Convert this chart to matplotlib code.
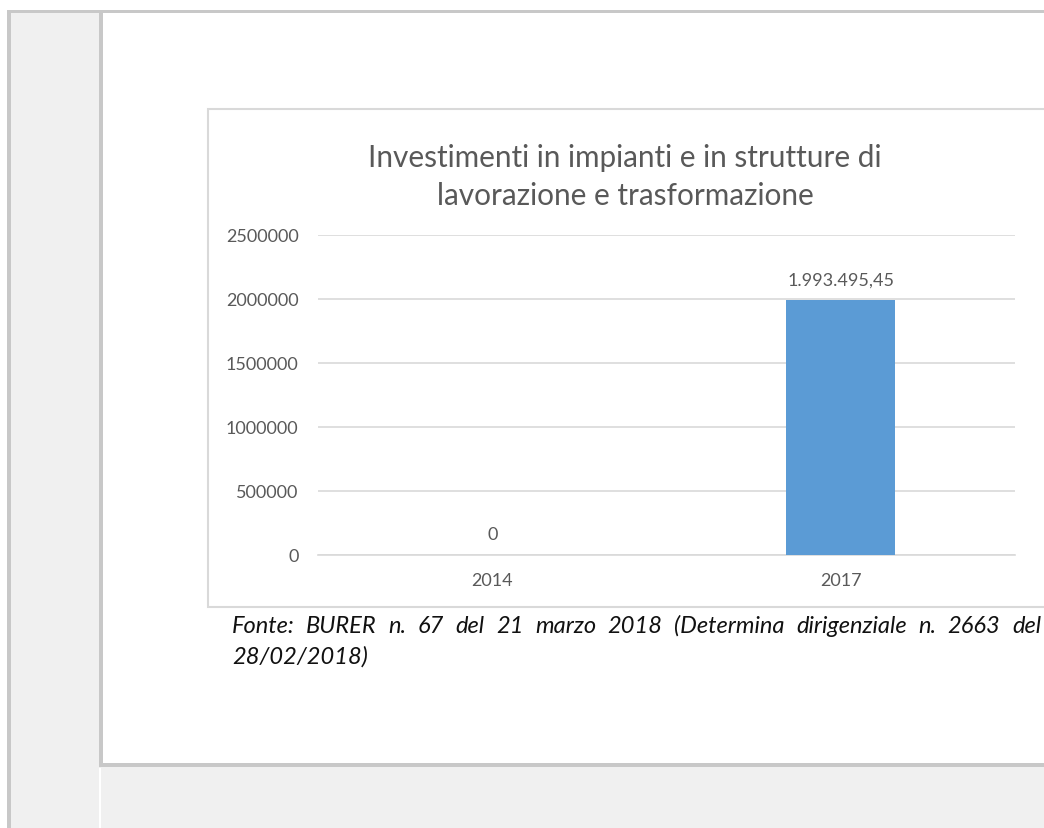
import matplotlib
matplotlib.use("Agg")
import matplotlib.pyplot as plt
from matplotlib.patches import Rectangle

# dati del grafico
anni = ["2014", "2017"]
investimenti = [0, 1993495.45]
etichette_valori = ["0", "1.993.495,45"]
tick_y = [0, 500000, 1000000, 1500000, 2000000, 2500000]

titolo = "Investimenti in impianti e in strutture di\nlavorazione e trasformazione"
fonte_riga1 = "Fonte: BURER n. 67 del 21 marzo 2018 (Determina dirigenziale n. 2663 del"
fonte_riga2 = "28/02/2018)"

W, H = 1044, 829
GRIGIO_TESTO = "#595959"
GRIGIO_GRIGLIA = "#d9d9d9"
BLU = "#5b9bd5"

plt.rcParams["font.family"] = ["Lato", "DejaVu Sans"]


def fx(x):
    return x / W


def fy(y):
    # y in pixel dall'alto -> frazione di figura
    return 1 - y / H


def rect_px(fig, x0, y0, x1, y1, **kw):
    fig.patches.append(Rectangle((fx(x0), fy(y1)), fx(x1) - fx(x0), fy(y0) - fy(y1),
                                 transform=fig.transFigure, figure=fig, zorder=-5, **kw))


fig = plt.figure(figsize=(W / 100, H / 100), dpi=100, facecolor="white")

# cornice della pagina (screenshot)
rect_px(fig, 7, 11, W + 5, H + 5, facecolor="#c8c8c8", edgecolor="none")
rect_px(fig, 11, 14, W + 5, H + 5, facecolor="#f0f0f0", edgecolor="none")
rect_px(fig, 99, 14, W + 5, 768, facecolor="#c8c8c8", edgecolor="none")
rect_px(fig, 103, 14, W + 5, 764, facecolor="white", edgecolor="none")
rect_px(fig, 99, 769, 101, H + 5, facecolor="white", edgecolor="none")

# bordo dell'immagine del grafico
rect_px(fig, 208, 110, W + 20, 608, facecolor="white", edgecolor=GRIGIO_GRIGLIA,
        linewidth=1.5)

ax = fig.add_axes([fx(318), fy(556), fx(1015) - fx(318), fy(236) - fy(556)])
ax.set_facecolor("none")
x = list(range(len(anni)))
ax.bar(x, investimenti, width=0.313, color=BLU, zorder=3)
ax.set_xlim(-0.5, len(anni) - 0.5)
ax.set_ylim(0, tick_y[-1])
ax.set_yticks(tick_y)
ax.set_yticklabels([str(v) for v in tick_y])
ax.set_xticks(x)
ax.set_xticklabels(anni)
ax.tick_params(length=0, labelsize=13, labelcolor=GRIGIO_TESTO)
ax.tick_params(axis="y", pad=14)
ax.tick_params(axis="x", pad=12)
ax.grid(axis="y", color=GRIGIO_GRIGLIA, linewidth=1.2, zorder=0)
for lato in ["top", "right", "left"]:
    ax.spines[lato].set_visible(False)
ax.spines["bottom"].set_color(GRIGIO_GRIGLIA)
ax.spines["bottom"].set_linewidth(1.2)

for xi, v, lab in zip(x, investimenti, etichette_valori):
    ax.annotate(lab, (xi, v), textcoords="offset points", xytext=(0, 9),
                ha="center", va="bottom", fontsize=13, color=GRIGIO_TESTO)

fig.text(fx(625), fy(177), titolo, ha="center", va="center", fontsize=21.4,
         color=GRIGIO_TESTO, linespacing=1.4)

# didascalia giustificata: parole distribuite tra i margini
renderer = fig.canvas.get_renderer()
stile = dict(fontsize=17, style="italic", color="#111111", va="baseline")
parole = fonte_riga1.split()
testi = [fig.text(0, fy(633), p, ha="left", **stile) for p in parole]
larghezze = [t.get_window_extent(renderer).width for t in testi]
x0, x1 = 232, 1041
spazio = (x1 - x0 - sum(larghezze)) / (len(parole) - 1)
pos = x0
for t, w in zip(testi, larghezze):
    t.set_x(fx(pos))
    pos += w + spazio
fig.text(fx(x0), fy(664), fonte_riga2, ha="left", **stile)

fig.savefig("out.png", dpi=100)
